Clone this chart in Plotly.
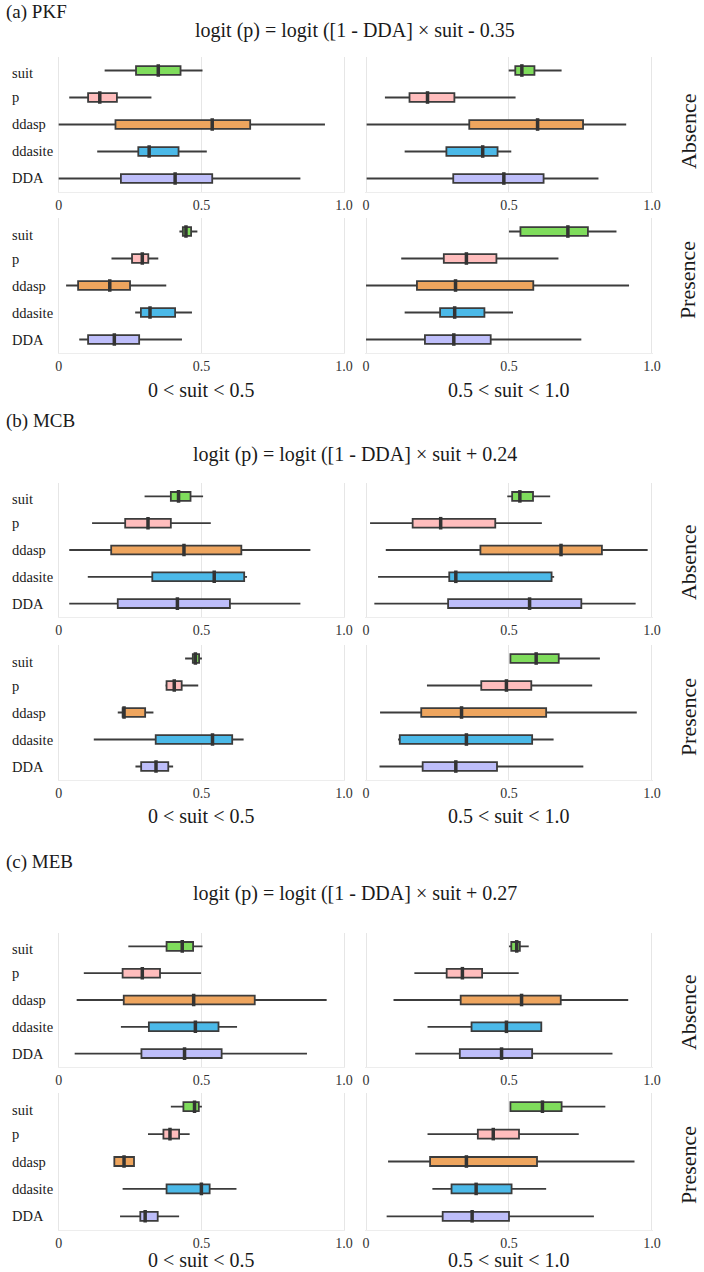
import plotly.graph_objects as go

# ---------------- data ----------------
categories = ["suit", "p", "ddasp", "ddasite", "DDA"]
colors = ["#7fdc5c", "#ffbdbd", "#eea55e", "#4bb9e8", "#bebefa"]

group_titles = ["(a) PKF", "(b) MCB", "(c) MEB"]
equations = [
    "logit (p) = logit ([1 - DDA] × suit - 0.35",
    "logit (p) = logit ([1 - DDA] × suit + 0.24",
    "logit (p) = logit ([1 - DDA] × suit + 0.27",
]
row_labels = ["Absence", "Presence"]
col_titles = ["0 < suit < 0.5", "0.5 < suit < 1.0"]
tick_vals = [0, 0.5, 1.0]
tick_text = ["0", "0.5", "1.0"]

# each entry: [lower whisker, q1, median, q3, upper whisker] for suit, p, ddasp, ddasite, DDA
pkf_absence_low = [[0.161, 0.271, 0.349, 0.427, 0.504], [0.037, 0.103, 0.144, 0.204, 0.325],
                   [0.000, 0.199, 0.538, 0.671, 0.933], [0.135, 0.279, 0.317, 0.420, 0.519],
                   [0.000, 0.218, 0.408, 0.538, 0.847]]
pkf_absence_high = [[0.499, 0.522, 0.545, 0.589, 0.684], [0.066, 0.152, 0.215, 0.309, 0.523],
                    [0.002, 0.361, 0.600, 0.759, 0.910], [0.135, 0.281, 0.408, 0.460, 0.508],
                    [0.002, 0.305, 0.482, 0.621, 0.813]]
pkf_presence_low = [[0.423, 0.435, 0.446, 0.464, 0.486], [0.185, 0.257, 0.293, 0.314, 0.349],
                    [0.026, 0.068, 0.179, 0.250, 0.377], [0.268, 0.288, 0.320, 0.408, 0.467],
                    [0.072, 0.103, 0.195, 0.282, 0.432]]
pkf_presence_high = [[0.500, 0.540, 0.706, 0.776, 0.876], [0.123, 0.272, 0.351, 0.456, 0.673],
                     [0.000, 0.178, 0.313, 0.585, 0.920], [0.135, 0.259, 0.310, 0.414, 0.514],
                     [0.000, 0.206, 0.307, 0.436, 0.753]]
mcb_absence_low = [[0.301, 0.393, 0.420, 0.462, 0.506], [0.117, 0.233, 0.313, 0.393, 0.533],
                   [0.037, 0.184, 0.439, 0.640, 0.882], [0.102, 0.328, 0.545, 0.650, 0.660],
                   [0.037, 0.207, 0.416, 0.600, 0.847]]
mcb_absence_high = [[0.494, 0.511, 0.538, 0.584, 0.644], [0.014, 0.163, 0.261, 0.452, 0.615],
                    [0.069, 0.400, 0.682, 0.825, 0.985], [0.042, 0.291, 0.314, 0.649, 0.658],
                    [0.029, 0.287, 0.572, 0.753, 0.943]]
mcb_presence_low = [[0.443, 0.470, 0.479, 0.492, 0.502], [0.374, 0.378, 0.405, 0.431, 0.489],
                    [0.207, 0.224, 0.229, 0.303, 0.332], [0.123, 0.340, 0.539, 0.608, 0.648],
                    [0.269, 0.289, 0.341, 0.384, 0.401]]
mcb_presence_high = [[0.505, 0.505, 0.595, 0.674, 0.818], [0.213, 0.403, 0.491, 0.578, 0.791],
                     [0.049, 0.193, 0.334, 0.630, 0.947], [0.112, 0.118, 0.351, 0.581, 0.656],
                     [0.047, 0.198, 0.314, 0.458, 0.760]]
meb_absence_low = [[0.244, 0.378, 0.433, 0.471, 0.504], [0.088, 0.224, 0.293, 0.355, 0.499],
                   [0.063, 0.228, 0.473, 0.687, 0.939], [0.218, 0.316, 0.479, 0.560, 0.625],
                   [0.056, 0.290, 0.441, 0.571, 0.870]]
meb_absence_high = [[0.500, 0.508, 0.527, 0.538, 0.569], [0.169, 0.282, 0.337, 0.406, 0.534],
                    [0.096, 0.331, 0.544, 0.681, 0.917], [0.215, 0.369, 0.491, 0.613, 0.613],
                    [0.172, 0.328, 0.474, 0.581, 0.862]]
meb_presence_low = [[0.393, 0.437, 0.476, 0.491, 0.502], [0.313, 0.367, 0.390, 0.422, 0.459],
                    [0.195, 0.195, 0.229, 0.264, 0.264], [0.224, 0.378, 0.500, 0.529, 0.623],
                    [0.215, 0.286, 0.303, 0.347, 0.422]]
meb_presence_high = [[0.505, 0.505, 0.617, 0.684, 0.837], [0.215, 0.391, 0.445, 0.535, 0.744],
                     [0.077, 0.224, 0.351, 0.598, 0.939], [0.232, 0.299, 0.385, 0.509, 0.630],
                     [0.072, 0.268, 0.371, 0.500, 0.797]]

panels = [
    [pkf_absence_low, pkf_absence_high],
    [pkf_presence_low, pkf_presence_high],
    [mcb_absence_low, mcb_absence_high],
    [mcb_presence_low, mcb_presence_high],
    [meb_absence_low, meb_absence_high],
    [meb_presence_low, meb_presence_high],
]

# ---------------- layout geometry ----------------
W, H = 704, 1272
col_px = [(57.5, 347.0), (369.3, 659.3)]
row_px = [(57, 192), (218, 353), (483, 617), (645, 780), (933, 1067), (1093, 1230)]
FONT = "Liberation Serif, Times New Roman, Times, DejaVu Serif, serif"
TXT = "#1a1a1a"
EDGE = "#3c3c3c"
PAD = 0.004


def px_x(x):
    return x / W


def px_y(y):
    return 1 - y / H


fig = go.Figure()
layout = dict(
    width=W, height=H, margin=dict(l=0, r=0, t=0, b=0),
    paper_bgcolor="white", plot_bgcolor="white", showlegend=False,
    boxmode="overlay", font=dict(family=FONT, color=TXT),
)
annotations = []

for r, row in enumerate(panels):
    for c, stats in enumerate(row):
        k = r * 2 + c + 1
        xa = "x" if k == 1 else f"x{k}"
        ya = "y" if k == 1 else f"y{k}"
        for i, cat in enumerate(categories):
            lo, q1, med, q3, hi = stats[i]
            fig.add_trace(go.Box(
                y=[cat], q1=[q1], median=[med], q3=[q3],
                lowerfence=[lo], upperfence=[hi],
                orientation="h", boxpoints=False, width=0.33, whiskerwidth=0,
                fillcolor=colors[i], line=dict(color=EDGE, width=1.8),
                xaxis=xa, yaxis=ya, hoverinfo="skip",
            ))
            fig.add_trace(go.Scatter(
                x=[med], y=[cat], mode="markers",
                marker=dict(symbol="line-ns", size=9, line=dict(width=3.5, color="#333333")),
                xaxis=xa, yaxis=ya, hoverinfo="skip",
            ))
        x0, x1 = col_px[c]
        y0, y1 = row_px[r]
        span = x1 - x0
        layout["xaxis" if k == 1 else f"xaxis{k}"] = dict(
            domain=[px_x(x0 - PAD * span), px_x(x1 + PAD * span)], range=[-PAD, 1.0 + PAD],
            anchor=ya, tickvals=tick_vals, ticktext=tick_text, showgrid=True, gridcolor="#e6e6e6",
            gridwidth=1, zeroline=False, showline=True, linecolor="#ededed", linewidth=1,
            ticks="", tickfont=dict(family=FONT, size=14, color="#333333"),
        )
        layout["yaxis" if k == 1 else f"yaxis{k}"] = dict(
            domain=[px_y(y1), px_y(y0)], anchor=xa, type="category",
            categoryorder="array", categoryarray=categories[::-1], range=[-0.5, 4.5],
            showgrid=False, zeroline=False, showline=False, showticklabels=False, ticks="",
        )
        if c == 0:
            for i, cat in enumerate(categories):
                annotations.append(dict(
                    x=px_x(8), xref="paper", y=cat, yref=ya, text=cat, showarrow=False,
                    xanchor="left", yanchor="middle", yshift=-3 if cat == "suit" else 0,
                    font=dict(family=FONT, size=14.5, color=TXT),
                ))

# group titles and equations
title_y = [12, 421, 862]
eq_y = [30, 455, 893]
xtitle_y = [390, 816, 1260]
for g in range(3):
    annotations.append(dict(x=px_x(2), y=px_y(title_y[g]), xref="paper", yref="paper",
                            text=group_titles[g], showarrow=False, xanchor="left", yanchor="middle",
                            font=dict(family=FONT, size=19, color=TXT)))
    annotations.append(dict(x=px_x(358), y=px_y(eq_y[g]), xref="paper", yref="paper",
                            text=equations[g], showarrow=False, xanchor="center", yanchor="middle",
                            font=dict(family=FONT, size=20, color=TXT)))
    for c, cx in enumerate([202, 514]):
        annotations.append(dict(x=px_x(cx), y=px_y(xtitle_y[g]), xref="paper", yref="paper",
                                text=col_titles[c], showarrow=False, xanchor="center", yanchor="middle",
                                font=dict(family=FONT, size=20, color=TXT)))

side_y = [131, 280, 562, 717, 1012, 1165]
for r in range(6):
    annotations.append(dict(x=px_x(696), y=px_y(side_y[r]), xref="paper", yref="paper",
                            text=row_labels[r % 2], showarrow=False, textangle=-90,
                            xanchor="center", yanchor="middle",
                            font=dict(family=FONT, size=22, color=TXT)))

layout["annotations"] = annotations
fig.update_layout(**layout)
fig.write_html("out.html")
